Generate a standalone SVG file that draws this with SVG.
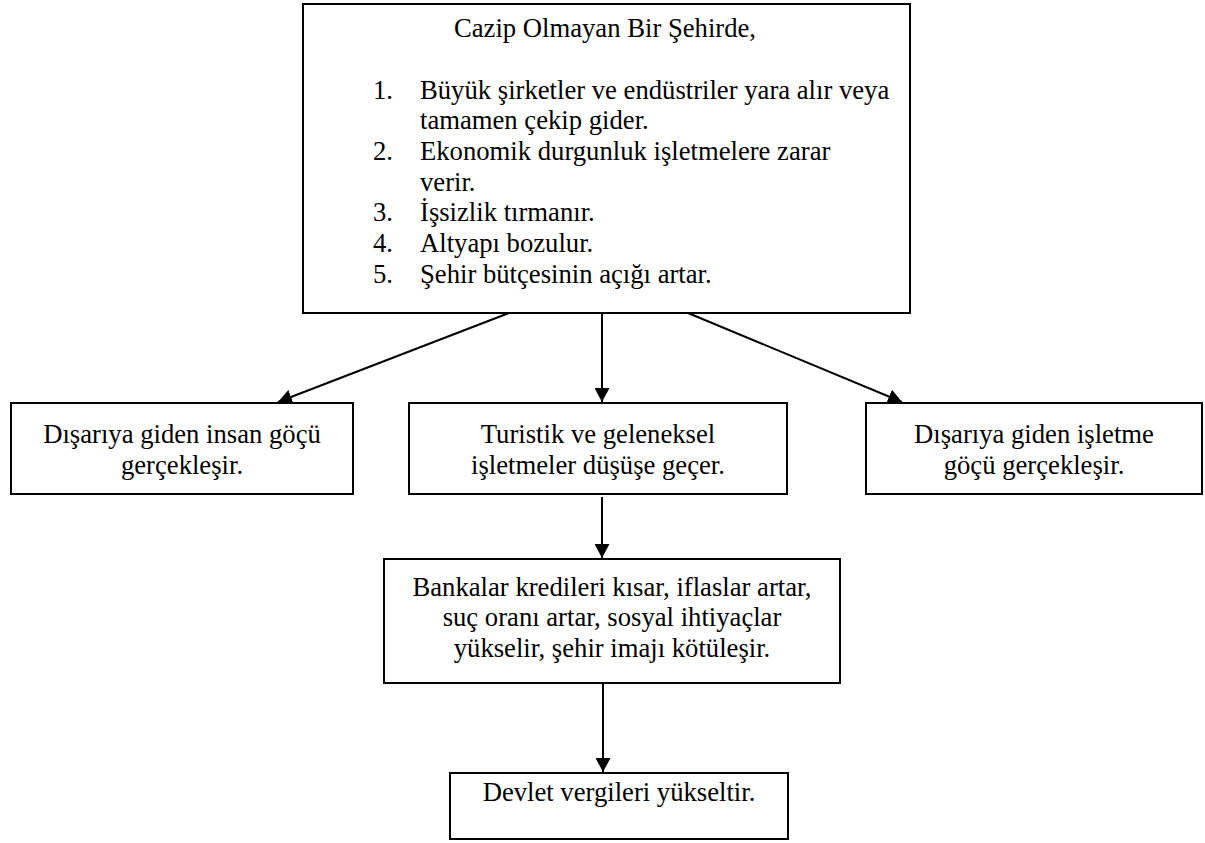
<svg xmlns="http://www.w3.org/2000/svg" width="1205" height="843" viewBox="0 0 1205 843">
<style>
  .box { fill: #ffffff; stroke: #000000; stroke-width: 2; }
  .t { font-family: "Liberation Serif", "Times New Roman", serif; font-size: 26.67px; fill: #000000; }
  .c { text-anchor: middle; }
  .conn { stroke: #000000; stroke-width: 2; fill: none; marker-end: url(#arrow); }
</style>
<defs>
  <marker id="arrow" markerUnits="userSpaceOnUse" markerWidth="15" markerHeight="15" refX="14" refY="7.5" orient="auto">
    <path d="M0,0 L14,7.5 L0,15 Z" fill="#000000"/>
  </marker>
</defs>
<rect width="1205" height="843" fill="#ffffff"/>
<g id="connectors">
  <line class="conn" x1="509" y1="313" x2="278" y2="402"/>
  <line class="conn" x1="602" y1="313" x2="602" y2="402"/>
  <line class="conn" x1="688" y1="313" x2="902" y2="402"/>
  <line class="conn" x1="602" y1="497" x2="602" y2="558"/>
  <line class="conn" x1="603" y1="684" x2="603" y2="772"/>
</g>
<g id="top">
  <rect class="box" x="303" y="4" width="607" height="309"/>
  <text class="t c" x="605" y="37">Cazip Olmayan Bir Şehirde,</text>
  <text class="t" x="373" y="99">1.</text>
  <text class="t" x="420" y="99">Büyük şirketler ve endüstriler yara alır veya</text>
  <text class="t" x="420" y="129">tamamen çekip gider.</text>
  <text class="t" x="373" y="160">2.</text>
  <text class="t" x="420" y="160">Ekonomik durgunluk işletmelere zarar</text>
  <text class="t" x="420" y="191">verir.</text>
  <text class="t" x="373" y="221">3.</text>
  <text class="t" x="420" y="221">İşsizlik tırmanır.</text>
  <text class="t" x="373" y="252">4.</text>
  <text class="t" x="420" y="252">Altyapı bozulur.</text>
  <text class="t" x="373" y="283">5.</text>
  <text class="t" x="420" y="283">Şehir bütçesinin açığı artar.</text>
</g>
<g id="left">
  <rect class="box" x="11" y="403" width="342" height="91"/>
  <text class="t c" x="182" y="443">Dışarıya giden insan göçü</text>
  <text class="t c" x="182" y="474">gerçekleşir.</text>
</g>
<g id="middle">
  <rect class="box" x="409" y="403" width="378" height="91"/>
  <text class="t c" x="598" y="443">Turistik ve geleneksel</text>
  <text class="t c" x="598" y="474">işletmeler düşüşe geçer.</text>
</g>
<g id="right">
  <rect class="box" x="866" y="403" width="336" height="91"/>
  <text class="t c" x="1034" y="443">Dışarıya giden işletme</text>
  <text class="t c" x="1034" y="474">göçü gerçekleşir.</text>
</g>
<g id="bank">
  <rect class="box" x="384" y="559" width="456" height="124"/>
  <text class="t c" x="612" y="596">Bankalar kredileri kısar, iflaslar artar,</text>
  <text class="t c" x="612" y="626">suç oranı artar, sosyal ihtiyaçlar</text>
  <text class="t c" x="612" y="657">yükselir, şehir imajı kötüleşir.</text>
</g>
<g id="devlet">
  <rect class="box" x="450" y="773" width="338" height="66"/>
  <text class="t c" x="619" y="801">Devlet vergileri yükseltir.</text>
</g>
</svg>
